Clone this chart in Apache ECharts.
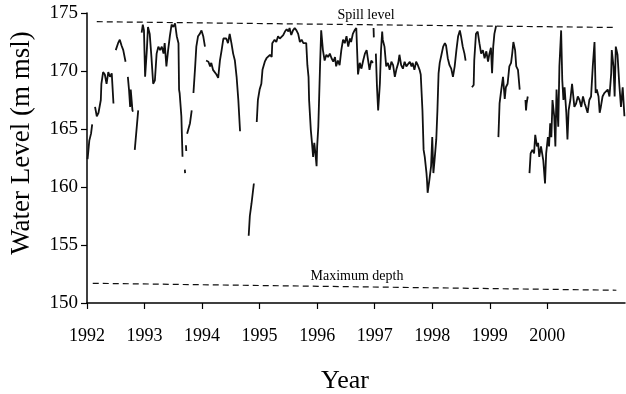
<!DOCTYPE html>
<html lang="en">
<head>
    <meta charset="utf-8" />
    <title>Water Level</title>
    <script src="https://cdn.jsdelivr.net/npm/echarts@6/dist/echarts.min.js"></script>
    <style>
        html, body { margin: 0; padding: 0; background: #fff; }
        #chart { width: 626px; height: 394px; }
    </style>
</head>
<body>
    <div id="chart"></div>
    <script>
        // record (null = gap in the record)
        var years = [
            1992.01, 1992.04, 1992.07, 1992.09, null,
            1992.14, 1992.17, 1992.20, 1992.24, 1992.25, 1992.28, 1992.31, 1992.34, 1992.37, 1992.40, 1992.43, 1992.46, null,
            1992.50, 1992.54, 1992.57, 1992.60, 1992.63, 1992.67, null,
            1992.71, 1992.73, 1992.75, 1992.76, 1992.79, 1992.80, null,
            1992.83, 1992.89, null,
            1992.95, 1992.97, 1992.99, 1993.01, 1993.04, 1993.06, 1993.09, 1993.12, 1993.15, 1993.18, 1993.21, 1993.24, 1993.27, 1993.30,
            1993.33, 1993.35, 1993.38, 1993.41, 1993.44, 1993.47, 1993.50, 1993.53, 1993.56, 1993.59, 1993.60, 1993.61, 1993.64, 1993.66, null,
            1993.70, 1993.705, null,
            1993.72, 1993.725, null,
            1993.74, 1993.79, 1993.82, null,
            1993.85, 1993.88, 1993.90, 1993.93, 1993.96, 1993.99, 1994.02, 1994.05, null,
            1994.07, 1994.11, 1994.14, 1994.16, 1994.19, 1994.22, 1994.25, 1994.28, 1994.31, 1994.34, 1994.37, 1994.39, 1994.42, 1994.45,
            1994.48, 1994.51, 1994.54, 1994.57, 1994.60, 1994.63, 1994.66, null,
            1994.81, 1994.83, 1994.86, 1994.90, null,
            1994.95, 1994.97, 1995.00, 1995.03, 1995.05, 1995.09, 1995.12, 1995.15, 1995.18, 1995.21, 1995.22, 1995.26, 1995.29, 1995.32,
            1995.35, 1995.41, 1995.44, 1995.47, 1995.50, 1995.52, 1995.55, 1995.58, 1995.61, 1995.64, 1995.67, 1995.70, 1995.73, 1995.76,
            1995.78, 1995.81, 1995.83, 1995.85, 1995.86, 1995.89, 1995.91, 1995.93, 1995.95, 1995.97, 1995.99, 1996.00, 1996.02, 1996.05,
            1996.07, 1996.10, 1996.13, 1996.16, 1996.19, 1996.22, 1996.25, 1996.28, 1996.31, 1996.33, 1996.36, 1996.39, 1996.42, 1996.45,
            1996.48, 1996.51, 1996.54, 1996.57, 1996.59, 1996.62, 1996.65, 1996.68, 1996.71, 1996.74, 1996.77, 1996.80, 1996.83, 1996.86,
            1996.88, 1996.91, 1996.94, 1996.97, null,
            1996.98, 1996.985, null,
            1997.02, 1997.04, 1997.06, 1997.09, 1997.11, 1997.13, 1997.14, 1997.17, 1997.20, 1997.23, 1997.26, 1997.29, 1997.32, 1997.35,
            1997.38, 1997.41, 1997.43, 1997.46, 1997.49, 1997.52, 1997.55, 1997.58, 1997.61, 1997.64, 1997.66, 1997.69, 1997.72, 1997.75,
            1997.78, 1997.80, 1997.83, 1997.85, 1997.87, 1997.90, 1997.91, 1997.92, 1997.95, 1997.98, 1998.00, 1998.02, 1998.04, 1998.07,
            1998.09, 1998.11, 1998.13, 1998.16, 1998.19, 1998.22, 1998.24, 1998.27, 1998.30, 1998.33, 1998.36, 1998.39, 1998.42, 1998.45,
            1998.48, 1998.50, 1998.53, 1998.56, 1998.58, null,
            1998.69, 1998.72, 1998.73, 1998.76, 1998.79, 1998.82, 1998.85, 1998.88, 1998.91, 1998.94, 1998.97, 1998.99, 1999.02, 1999.04,
            1999.06, 1999.08, 1999.11, null,
            1999.15, 1999.17, 1999.20, 1999.23, 1999.26, 1999.28, 1999.31, 1999.34, 1999.37, 1999.39, 1999.41, 1999.44, 1999.46, 1999.49,
            1999.52, null,
            1999.62, 1999.63, 1999.64, 1999.66, null,
            1999.69, 1999.71, 1999.74, 1999.77, 1999.79, 1999.82, 1999.84, 1999.86, 1999.89, 1999.91, 1999.93, 1999.96, 1999.98, 2000.01,
            2000.03, 2000.05, 2000.07, 2000.09, 2000.12, 2000.14, 2000.16, 2000.19, 2000.21, 2000.24, 2000.26, 2000.28, 2000.30, 2000.33,
            2000.35, 2000.37, 2000.40, 2000.43, 2000.44, 2000.47, 2000.50, 2000.53, 2000.56, 2000.59, 2000.62, 2000.65, 2000.67, 2000.70,
            2000.73, 2000.76, 2000.79, 2000.82, 2000.84, 2000.86, 2000.89, 2000.91, 2000.93, 2000.96, 2000.99, 2001.02, 2001.05, 2001.08,
            2001.11, 2001.12, 2001.15, 2001.17, 2001.19, 2001.22, 2001.25, 2001.28, 2001.31, 2001.34
        ];
        var levels = [
            162.4, 164.0, 164.6, 165.4, null,
            166.9, 166.1, 166.4, 167.5, 168.9, 169.9, 169.7, 168.9, 169.9, 169.5, 169.8, 167.2, null,
            171.8, 172.4, 172.7, 172.2, 171.8, 170.8, null,
            169.5, 168.4, 166.9, 168.4, 166.6, 166.5, null,
            163.2, 166.6, null,
            173.3, 174.0, 173.5, 169.5, 171.8, 173.8, 173.2, 171.2, 168.9, 169.2, 171.5, 172.1, 171.8, 172.1,
            171.5, 172.4, 170.4, 171.8, 173.0, 174.0, 173.8, 174.1, 173.0, 172.4, 168.4, 168.1, 166.1, 162.6, null,
            161.5, 161.2, null,
            163.6, 163.1, null,
            164.6, 165.5, 166.6, null,
            168.1, 170.4, 172.1, 173.0, 173.2, 173.5, 173.0, 172.1, null,
            170.9, 170.8, 170.4, 170.7, 170.1, 170.2, 169.7, 169.4, 170.9, 171.8, 172.8, 172.7, 172.8, 172.4,
            173.2, 172.4, 171.5, 170.9, 169.5, 167.5, 164.8, null,
            155.8, 157.5, 158.6, 160.3, null,
            165.6, 167.5, 168.4, 168.9, 170.1, 170.8, 171.1, 171.2, 171.4, 171.2, 172.4, 172.7, 172.5, 173.0,
            172.8, 173.1, 173.4, 173.6, 173.4, 173.7, 173.1, 173.5, 173.7, 173.5, 173.2, 172.5, 172.7, 172.4,
            172.5, 172.4, 170.5, 169.5, 167.5, 164.9, 163.8, 162.6, 163.8, 162.9, 161.8, 163.5, 165.2, 170.4,
            173.5, 171.8, 170.9, 171.4, 171.2, 171.5, 171.1, 170.8, 171.2, 170.4, 170.9, 170.5, 171.8, 172.7,
            172.4, 173.0, 172.1, 172.8, 172.5, 173.2, 173.5, 173.7, 169.7, 170.7, 170.2, 170.9, 171.5, 171.8,
            171.1, 170.1, 170.9, 170.7, null,
            173.7, 172.9, null,
            171.5, 168.6, 166.6, 168.9, 171.8, 173.4, 172.7, 172.1, 170.4, 170.7, 170.1, 170.8, 170.5, 169.5,
            170.2, 170.7, 171.4, 170.5, 170.2, 170.8, 170.4, 170.5, 170.8, 170.4, 170.7, 170.1, 170.8, 170.5,
            170.1, 169.7, 166.6, 163.2, 162.6, 161.2, 160.5, 159.5, 160.6, 161.8, 164.3, 161.2, 162.3, 164.1,
            166.6, 169.8, 170.7, 171.4, 172.1, 172.4, 172.2, 171.1, 170.5, 170.2, 169.5, 170.4, 171.8, 173.0,
            173.5, 173.0, 172.1, 171.5, 170.9, null,
            168.6, 168.8, 170.9, 173.2, 173.4, 172.4, 171.5, 171.8, 171.1, 171.7, 170.8, 171.4, 172.0, 169.8,
            172.1, 173.2, 173.9, null,
            164.3, 167.2, 168.4, 169.5, 167.6, 168.6, 168.9, 170.4, 170.7, 171.5, 172.5, 171.8, 170.4, 170.1,
            168.4, null,
            167.5, 166.6, 167.2, 167.8, null,
            161.2, 162.9, 163.2, 162.9, 164.5, 163.5, 163.8, 162.6, 163.5, 162.9, 162.3, 160.3, 162.9, 164.3,
            163.5, 165.5, 164.3, 167.5, 166.1, 163.5, 168.4, 165.2, 170.4, 173.5, 169.2, 167.5, 168.6, 166.4,
            164.1, 166.6, 167.5, 168.9, 168.4, 166.9, 167.2, 167.8, 167.5, 166.9, 167.8, 167.2, 166.9, 166.4,
            167.5, 167.8, 170.4, 172.5, 168.1, 168.4, 167.8, 166.4, 166.9, 167.8, 168.1, 168.2, 168.4, 167.8,
            169.8, 171.8, 170.4, 167.8, 172.1, 171.4, 168.9, 166.9, 168.6, 166.1
        ];

        // reference lines
        var spillYears = [1992.17, 2001.2];
        var spillLevels = [174.25, 173.75];
        var depthYears = [1992.1, 2001.2];
        var depthLevels = [151.7, 151.1];

        var yearTicks = [1992, 1993, 1994, 1995, 1996, 1997, 1998, 1999, 2000];

        function pairs(xs, ys) {
            return xs.map(function (x, i) {
                return (x === null || ys[i] === null) ? ['-', '-'] : [x, ys[i]];
            });
        }

        var serif = '"Liberation Serif", "DejaVu Serif", serif';
        var chart = echarts.init(document.getElementById('chart'));
        chart.setOption({
            animation: false,
            backgroundColor: '#fff',
            grid: { left: 87, right: 1, top: 13, bottom: 91 },
            xAxis: {
                type: 'value', min: 1992, max: 2001.35, interval: 1,
                axisLine: { lineStyle: { color: '#000', width: 1.5 } },
                axisTick: { customValues: yearTicks, length: 6, lineStyle: { color: '#000', width: 1.2 } },
                axisLabel: {
                    customValues: yearTicks, margin: 24,
                    formatter: function (v) { return String(v); },
                    color: '#000', fontFamily: serif, fontSize: 18
                },
                splitLine: { show: false }
            },
            yAxis: {
                type: 'value', min: 150, max: 175, interval: 5,
                axisLine: { show: true, lineStyle: { color: '#000', width: 1.5 } },
                axisTick: { show: true, length: 6, lineStyle: { color: '#000', width: 1.2 } },
                axisLabel: { margin: 9, color: '#000', fontFamily: serif, fontSize: 19 },
                splitLine: { show: false }
            },
            graphic: [
                { type: 'text', x: 22, y: 143, rotation: Math.PI / 2,
                  style: { text: 'Water Level (m msl)', font: '27px ' + serif, fill: '#000', align: 'center', verticalAlign: 'middle' } },
                { type: 'text', x: 345, y: 381,
                  style: { text: 'Year', font: '26px ' + serif, fill: '#000', align: 'center', verticalAlign: 'middle' } },
                { type: 'text', x: 366, y: 15,
                  style: { text: 'Spill level', font: '14px ' + serif, fill: '#000', align: 'center', verticalAlign: 'middle' } },
                { type: 'text', x: 357, y: 276,
                  style: { text: 'Maximum depth', font: '14px ' + serif, fill: '#000', align: 'center', verticalAlign: 'middle' } }
            ],
            series: [
                {
                    type: 'line', data: pairs(years, levels), showSymbol: false, connectNulls: false,
                    lineStyle: { color: '#111', width: 1.8 }
                },
                {
                    type: 'line', data: pairs(spillYears, spillLevels), showSymbol: false,
                    lineStyle: { color: '#111', width: 1.2, type: [6, 4] }
                },
                {
                    type: 'line', data: pairs(depthYears, depthLevels), showSymbol: false,
                    lineStyle: { color: '#111', width: 1.2, type: [6, 4] }
                }
            ]
        });
    </script>
</body>
</html>
